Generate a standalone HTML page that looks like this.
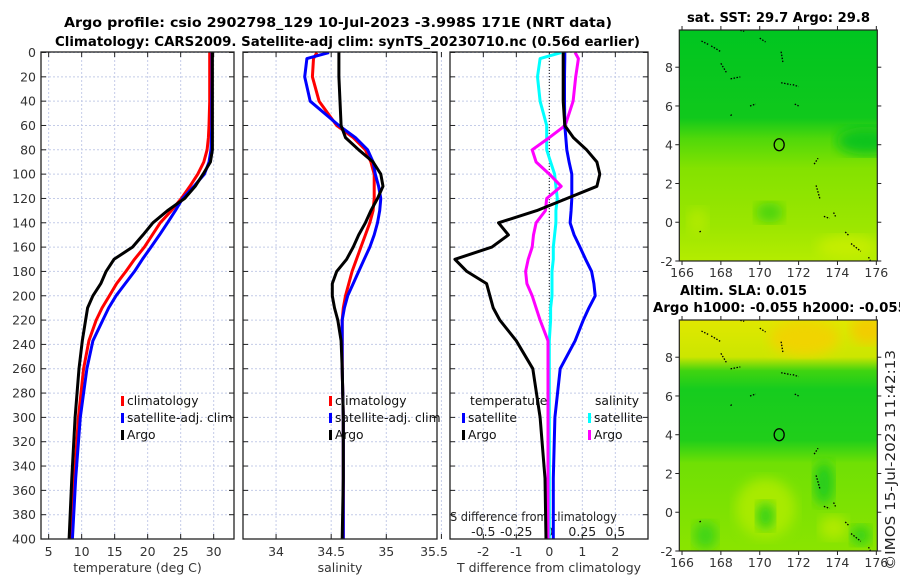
<!DOCTYPE html>
<html><head><meta charset="utf-8"><style>
html,body{margin:0;padding:0;background:#fff;}
svg{display:block;font-family:"DejaVu Sans","Liberation Sans",sans-serif;}
</style></head><body>
<svg id="fig" width="900" height="580" viewBox="0 0 900 580" xmlns="http://www.w3.org/2000/svg">
<defs>
<linearGradient id="gTop" x1="0" y1="0" x2="0" y2="1">
<stop offset="0" stop-color="#00c520"/><stop offset="0.38" stop-color="#10c81c"/>
<stop offset="0.47" stop-color="#50d80a"/><stop offset="0.6" stop-color="#84e200"/>
<stop offset="0.85" stop-color="#9ce600"/><stop offset="1" stop-color="#b4ec00"/>
</linearGradient>
<linearGradient id="gBot" x1="0" y1="0" x2="0" y2="1">
<stop offset="0" stop-color="#e0e800"/><stop offset="0.16" stop-color="#cce600"/>
<stop offset="0.22" stop-color="#40d410"/><stop offset="0.3" stop-color="#16cc1e"/>
<stop offset="0.52" stop-color="#20ce1a"/><stop offset="0.62" stop-color="#70e004"/>
<stop offset="1" stop-color="#8ae400"/>
</linearGradient>
<filter id="blur"><feGaussianBlur stdDeviation="6"/></filter>
<clipPath id="cTop"><rect x="679" y="30" width="198" height="231"/></clipPath>
<clipPath id="cBot"><rect x="679" y="320" width="198" height="231"/></clipPath>
<clipPath id="c1"><rect x="41" y="52" width="193" height="487"/></clipPath>
<clipPath id="c2"><rect x="243" y="52" width="194" height="487"/></clipPath>
<clipPath id="c3"><rect x="450" y="52" width="198" height="487"/></clipPath>
</defs>
<g font-size="13" font-weight="bold" fill="#000">
<text x="64" y="27" textLength="548" lengthAdjust="spacingAndGlyphs">Argo profile: csio 2902798_129 10-Jul-2023 -3.998S 171E (NRT data)</text>
<text x="55" y="46" textLength="585" lengthAdjust="spacingAndGlyphs">Climatology: CARS2009. Satellite-adj clim: synTS_20230710.nc (0.56d earlier)</text>
<text x="687" y="22" textLength="183" lengthAdjust="spacingAndGlyphs">sat. SST: 29.7 Argo: 29.8</text>
<text x="680" y="295" textLength="127" lengthAdjust="spacingAndGlyphs">Altim. SLA: 0.015</text>
<text x="653" y="312" textLength="254" lengthAdjust="spacingAndGlyphs">Argo h1000: -0.055 h2000: -0.055</text>
</g>
<g id="panels"></g>
<g id="maps"></g>
<text transform="translate(895,460) rotate(-90)" font-size="13" text-anchor="middle" fill="#222" textLength="220" lengthAdjust="spacingAndGlyphs">©IMOS 15-Jul-2023 11:42:13</text>
</svg>
<script>
// ---- data (depth in dbar) ----
const depths = [0,5,20,40,60,70,80,90,100,110,120,130,140,150,160,170,180,190,200,210,220,237,260,300,350,400];
const tempClim = [29.4,29.4,29.4,29.4,29.3,29.2,29.0,28.5,27.6,26.4,25.1,23.6,21.9,20.7,19.5,18.0,16.7,15.3,14.2,13.1,12.2,11.1,10.3,9.5,8.9,8.4];
const tempSat = [29.75,29.75,29.75,29.7,29.7,29.65,29.6,29.3,28.6,27.0,25.3,24.2,23.0,21.8,20.5,19.2,18.0,16.6,15.2,14.1,13.2,11.7,10.8,9.8,9.1,8.6];
const tempArgo = [29.8,29.8,29.8,29.8,29.8,29.8,29.8,29.5,28.4,27.2,25.6,23.0,20.8,19.3,17.7,14.9,13.7,12.9,11.7,10.9,10.6,10.1,9.6,9.0,8.5,8.1];
const salClim = [34.37,34.34,34.33,34.39,34.55,34.70,34.81,34.86,34.89,34.89,34.89,34.88,34.85,34.81,34.77,34.73,34.69,34.66,34.63,34.61,34.6,34.6,34.6,34.61,34.61,34.61];
const salSat = [34.48,34.28,34.26,34.31,34.57,34.72,34.83,34.88,34.9,34.93,34.95,34.94,34.92,34.89,34.85,34.8,34.75,34.7,34.65,34.62,34.6,34.6,34.6,34.61,34.61,34.61];
const salArgo = [34.57,34.57,34.57,34.58,34.59,34.63,34.75,34.88,34.95,34.97,34.92,34.86,34.81,34.75,34.7,34.64,34.55,34.51,34.51,34.53,34.56,34.59,34.6,34.61,34.61,34.6];
const dTempArgo = [0.42,0.42,0.42,0.42,0.47,0.73,1.13,1.44,1.53,1.44,0.53,-0.38,-1.54,-1.24,-1.74,-2.86,-2.5,-1.9,-1.8,-1.7,-1.5,-1.0,-0.5,-0.28,-0.13,-0.1];
const dTempSat = [0.47,0.47,0.46,0.46,0.47,0.5,0.53,0.6,0.68,0.68,0.68,0.66,0.63,0.75,0.93,1.1,1.28,1.35,1.39,1.2,1.03,0.78,0.33,0.17,0.12,0.12];
const dSalArgo = [0.195,0.22,0.2,0.18,0.12,0.0,-0.13,-0.1,0.0,0.09,-0.02,-0.03,-0.1,-0.12,-0.13,-0.16,-0.18,-0.17,-0.13,-0.1,-0.07,-0.01,-0.01,-0.01,-0.01,-0.01];
const dSalSat = [0.09,-0.07,-0.09,-0.07,-0.02,-0.02,-0.02,0.01,0.04,0.05,0.06,0.05,0.05,0.04,0.03,0.03,0.02,0.02,0.02,0.01,0.01,0.0,0.0,0.0,0.0,0.0];
const depthTicks = [0,20,40,60,80,100,120,140,160,180,200,220,240,260,280,300,320,340,360,380,400];
const tempTicks = [5,10,15,20,25,30];
const salTicks = [34,34.5,35,35.5];
const salTickLabels = ["34","34.5","35","35.5"];
const dTempTicks = [-2,-1,0,1,2];
const dSalTicks = [-0.5,-0.25,0,0.25,0.5];
const lonTicks = [166,168,170,172,174,176];
const latTicks = [-2,0,2,4,6,8];
const argoLon = 171, argoLat = 4;

const NS = "http://www.w3.org/2000/svg";
function mk(tag, attrs, parent){const e=document.createElementNS(NS,tag);for(const k in attrs)e.setAttribute(k,attrs[k]);parent.appendChild(e);return e;}
const P = document.getElementById('panels');
const M = document.getElementById('maps');
const yD = d => 52.5 + d*1.2163;

const panels = [
 {x0:41,x1:234,min:3.84,max:33.08,ticks:tempTicks,labels:tempTicks.map(String),clip:'c1',name:'temperature-panel',xlabel:'temperature (deg C)'},
 {x0:243,x1:437,min:33.70,max:35.46,ticks:salTicks,labels:salTickLabels,clip:'c2',name:'salinity-panel',xlabel:'salinity'},
 {x0:450,x1:648,min:-3.01,max:2.99,ticks:dTempTicks,labels:dTempTicks.map(String),clip:'c3',name:'difference-panel',xlabel:'T difference from climatology'}
];
panels.forEach(p=>{ p.sx = v => p.x0 + (v-p.min)/(p.max-p.min)*(p.x1-p.x0); });

panels.forEach((p,i)=>{
  const g = mk('g',{},P);
  
  
  depthTicks.forEach(d=>{
    const l = mk('line',{x1:p.x0,x2:p.x1,y1:yD(d),y2:yD(d),stroke:'#c4cce8','stroke-width':1,'stroke-dasharray':'2,2'},g);
    
    
    mk('line',{x1:p.x0,x2:p.x0+5,y1:yD(d),y2:yD(d),stroke:'#222'},g);
    mk('line',{x1:p.x1-5,x2:p.x1,y1:yD(d),y2:yD(d),stroke:'#222'},g);
  });
  p.ticks.forEach((t,k)=>{
    const x = p.sx(t);
    const l = mk('line',{x1:x,x2:x,y1:52,y2:539,stroke:'#c4cce8','stroke-width':1,'stroke-dasharray':'2,2'},g);
    
    
    mk('line',{x1:x,x2:x,y1:539,y2:534,stroke:'#222'},g);
    mk('line',{x1:x,x2:x,y1:52,y2:57,stroke:'#222'},g);
    const tx = mk('text',{x:(i===1&&k===3)?434:x,y:556,'font-size':12.5,'text-anchor':'middle',fill:'#333'},g);
    tx.textContent = p.labels[k];
    
    
  });
  const xl = mk('text',{x:(p.x0+p.x1)/2,y:572,'font-size':12.5,'text-anchor':'middle',fill:'#333'},g);
  xl.textContent = p.xlabel;
  
  
});

depthTicks.forEach(d=>{
  const t = mk('text',{x:36,y:yD(d)+4.5,'font-size':12.5,'text-anchor':'end',fill:'#333'},P);
  t.textContent = String(d);
  
  
});

const p3 = panels[2];
const zl = mk('line',{x1:p3.sx(0),x2:p3.sx(0),y1:52,y2:539,stroke:'#333','stroke-width':1.2,'stroke-dasharray':'1,2'},P);



const sxS = v => p3.sx(v*4);
const sTitle = mk('text',{x:450,y:521,'font-size':12.5,fill:'#222',textLength:167,lengthAdjust:'spacingAndGlyphs'},P);
sTitle.textContent = 'S difference from climatology';


dSalTicks.forEach(t=>{
  const tx = mk('text',{x:sxS(t),y:536,'font-size':12.5,'text-anchor':'middle',fill:'#222'},P);
  tx.textContent = String(t);
  
  
});

function line(panel, vals, sx, color, name){
  const pts = vals.map((v,k)=> sx(v).toFixed(1)+','+yD(depths[k]).toFixed(1)).join(' ');
  const pl = mk('polyline',{points:pts,fill:'none',stroke:color,'stroke-width':3,'stroke-linejoin':'round','clip-path':'url(#'+panel.clip+')'},P);
  
  
}
const [p1,p2] = panels;
line(p1,tempClim,p1.sx,'#ff0000','temp-climatology-line');
line(p1,tempSat,p1.sx,'#0000ff','temp-satellite-line');
line(p1,tempArgo,p1.sx,'#000000','temp-argo-line');
line(p2,salClim,p2.sx,'#ff0000','sal-climatology-line');
line(p2,salSat,p2.sx,'#0000ff','sal-satellite-line');
line(p2,salArgo,p2.sx,'#000000','sal-argo-line');
line(p3,dSalSat,sxS,'#00ffff','dsal-satellite-line');
line(p3,dSalArgo,sxS,'#ff00ff','dsal-argo-line');
line(p3,dTempSat,p3.sx,'#0000ff','dtemp-satellite-line');
line(p3,dTempArgo,p3.sx,'#000000','dtemp-argo-line');

panels.forEach(p=>{
  const r = mk('rect',{x:p.x0,y:52,width:p.x1-p.x0,height:487,fill:'none',stroke:'#222','stroke-width':1.3},P);
  
  
});

function leg(x,y,color,label,name){
  const g = mk('g',{},P);
  
  
  mk('rect',{x:x,y:y-9,width:3,height:10,fill:color},g);
  const t = mk('text',{x:x+6,y:y,'font-size':12.3,fill:'#111'},g);
  t.textContent = label;
}
leg(121,405,'#ff0000','climatology','legend-climatology');
leg(121,422,'#0000ff','satellite-adj. clim','legend-satellite');
leg(121,439,'#000000','Argo','legend-argo');
leg(329,405,'#ff0000','climatology','legend2-climatology');
leg(329,422,'#0000ff','satellite-adj. clim','legend2-satellite');
leg(329,439,'#000000','Argo','legend2-argo');
const lt = mk('text',{x:470,y:405,'font-size':12.3,fill:'#111'},P); lt.textContent='temperature';


const ls = mk('text',{x:595,y:405,'font-size':12.3,fill:'#111'},P); ls.textContent='salinity';


leg(462,422,'#0000ff','satellite','legend-dtemp-satellite');
leg(462,439,'#000000','Argo','legend-dtemp-argo');
leg(588,422,'#00ffff','satellite','legend-dsal-satellite');
leg(588,439,'#ff00ff','Argo','legend-dsal-argo');

// ---- maps ----
const coast = [[167.0,9.35,167.4,9.15],[167.5,9.1,168.0,8.8],[168.0,8.2,168.3,7.7],[168.5,7.4,169.0,7.5],[169.5,6.0,169.8,6.1],[168.5,5.5,168.6,5.6],[171.1,8.8,171.2,8.2],[171.1,7.2,171.6,7.1],[171.7,7.1,172.0,7.0],[171.8,6.1,172.0,6.0],[170.0,9.5,170.3,9.3],[172.8,3.0,173.0,3.3],[172.9,1.9,173.1,1.2],[173.3,0.3,173.6,0.2],[173.8,0.5,173.9,0.3],[174.4,-0.5,174.6,-0.7],[174.7,-1.1,175.2,-1.5],[175.6,-1.8,175.7,-2.0],[166.9,-0.5,167.0,-0.45],[169.0,9.9,169.2,9.85]];
function drawMap(top, grad, clip, name, extra){
  const g = mk('g',{},M);
  
  
  const L=679.3,R=877.3,B=top+231;
  const lx = v => L + (v-165.86)/(176.05-165.86)*(R-L);
  const ly = v => B - (v+2.0)/(9.92+2.0)*(B-top);
  const cg = mk('g',{'clip-path':'url(#'+clip+')'},g);
  mk('rect',{x:L,y:top,width:R-L,height:231,fill:'url(#'+grad+')'},cg);
  extra(cg,lx,ly);
  coast.forEach(c=>{ mk('line',{x1:lx(c[0]),y1:ly(c[1]),x2:lx(c[2]),y2:ly(c[3]),stroke:'#000','stroke-width':1.3,'stroke-dasharray':'1.5,1.5'},cg); });
  const ci = mk('ellipse',{cx:lx(argoLon),cy:ly(argoLat),rx:5,ry:6,fill:'none',stroke:'#000','stroke-width':1.3},g);
  
  
  mk('rect',{x:L,y:top,width:R-L,height:231,fill:'none',stroke:'#222','stroke-width':1.2},g);
  lonTicks.forEach(t=>{
    const x=lx(t);
    mk('line',{x1:x,x2:x,y1:B,y2:B+4,stroke:'#222'},g);
    mk('line',{x1:x,x2:x,y1:top,y2:top-4,stroke:'#222'},g);
    const tx = mk('text',{x:x,y:B+16,'font-size':12.5,'text-anchor':'middle',fill:'#333'},g);
    tx.textContent = String(t);
    
    
  });
  latTicks.forEach(t=>{
    const y=ly(t);
    mk('line',{x1:L,x2:L-4,y1:y,y2:y,stroke:'#222'},g);
    mk('line',{x1:R,x2:R+4,y1:y,y2:y,stroke:'#222'},g);
    const tx = mk('text',{x:673,y:y+5,'font-size':12.5,'text-anchor':'end',fill:'#333'},g);
    tx.textContent = String(t);
    
    
  });
}
drawMap(30,'gTop','cTop','sst-map',(g,lx,ly)=>{
  mk('ellipse',{cx:lx(175.5),cy:ly(4.2),rx:30,ry:14,fill:'#10c41c',filter:'url(#blur)'},g);
  mk('ellipse',{cx:lx(174.5),cy:ly(-1.3),rx:30,ry:12,fill:'#c4ee00',filter:'url(#blur)'},g);
  mk('ellipse',{cx:lx(170.5),cy:ly(0.5),rx:14,ry:10,fill:'#48d40c',filter:'url(#blur)'},g);
  mk('ellipse',{cx:lx(166.8),cy:ly(0),rx:10,ry:14,fill:'#b0ea00',filter:'url(#blur)'},g);
});
drawMap(320,'gBot','cBot','sla-map',(g,lx,ly)=>{
  mk('ellipse',{cx:lx(172.3),cy:ly(9.0),rx:35,ry:18,fill:'#f0d400',filter:'url(#blur)'},g);
  mk('ellipse',{cx:lx(175.6),cy:ly(9.4),rx:18,ry:14,fill:'#f2cc00',filter:'url(#blur)'},g);
  mk('ellipse',{cx:lx(170.3),cy:ly(0.2),rx:30,ry:30,fill:'#a8ea00',filter:'url(#blur)'},g);
  mk('ellipse',{cx:lx(170.3),cy:ly(-0.2),rx:9,ry:14,fill:'#30d018',filter:'url(#blur)'},g);
  mk('ellipse',{cx:lx(173.8),cy:ly(-0.8),rx:14,ry:12,fill:'#b0ea00',filter:'url(#blur)'},g);
  mk('ellipse',{cx:lx(173.3),cy:ly(1.5),rx:10,ry:22,fill:'#20cc1a',filter:'url(#blur)'},g);
  mk('ellipse',{cx:lx(175.2),cy:ly(-1.2),rx:10,ry:10,fill:'#30d014',filter:'url(#blur)'},g);
  mk('ellipse',{cx:lx(167.2),cy:ly(-1.2),rx:12,ry:14,fill:'#40d412',filter:'url(#blur)'},g);
});
</script>
</body></html>
